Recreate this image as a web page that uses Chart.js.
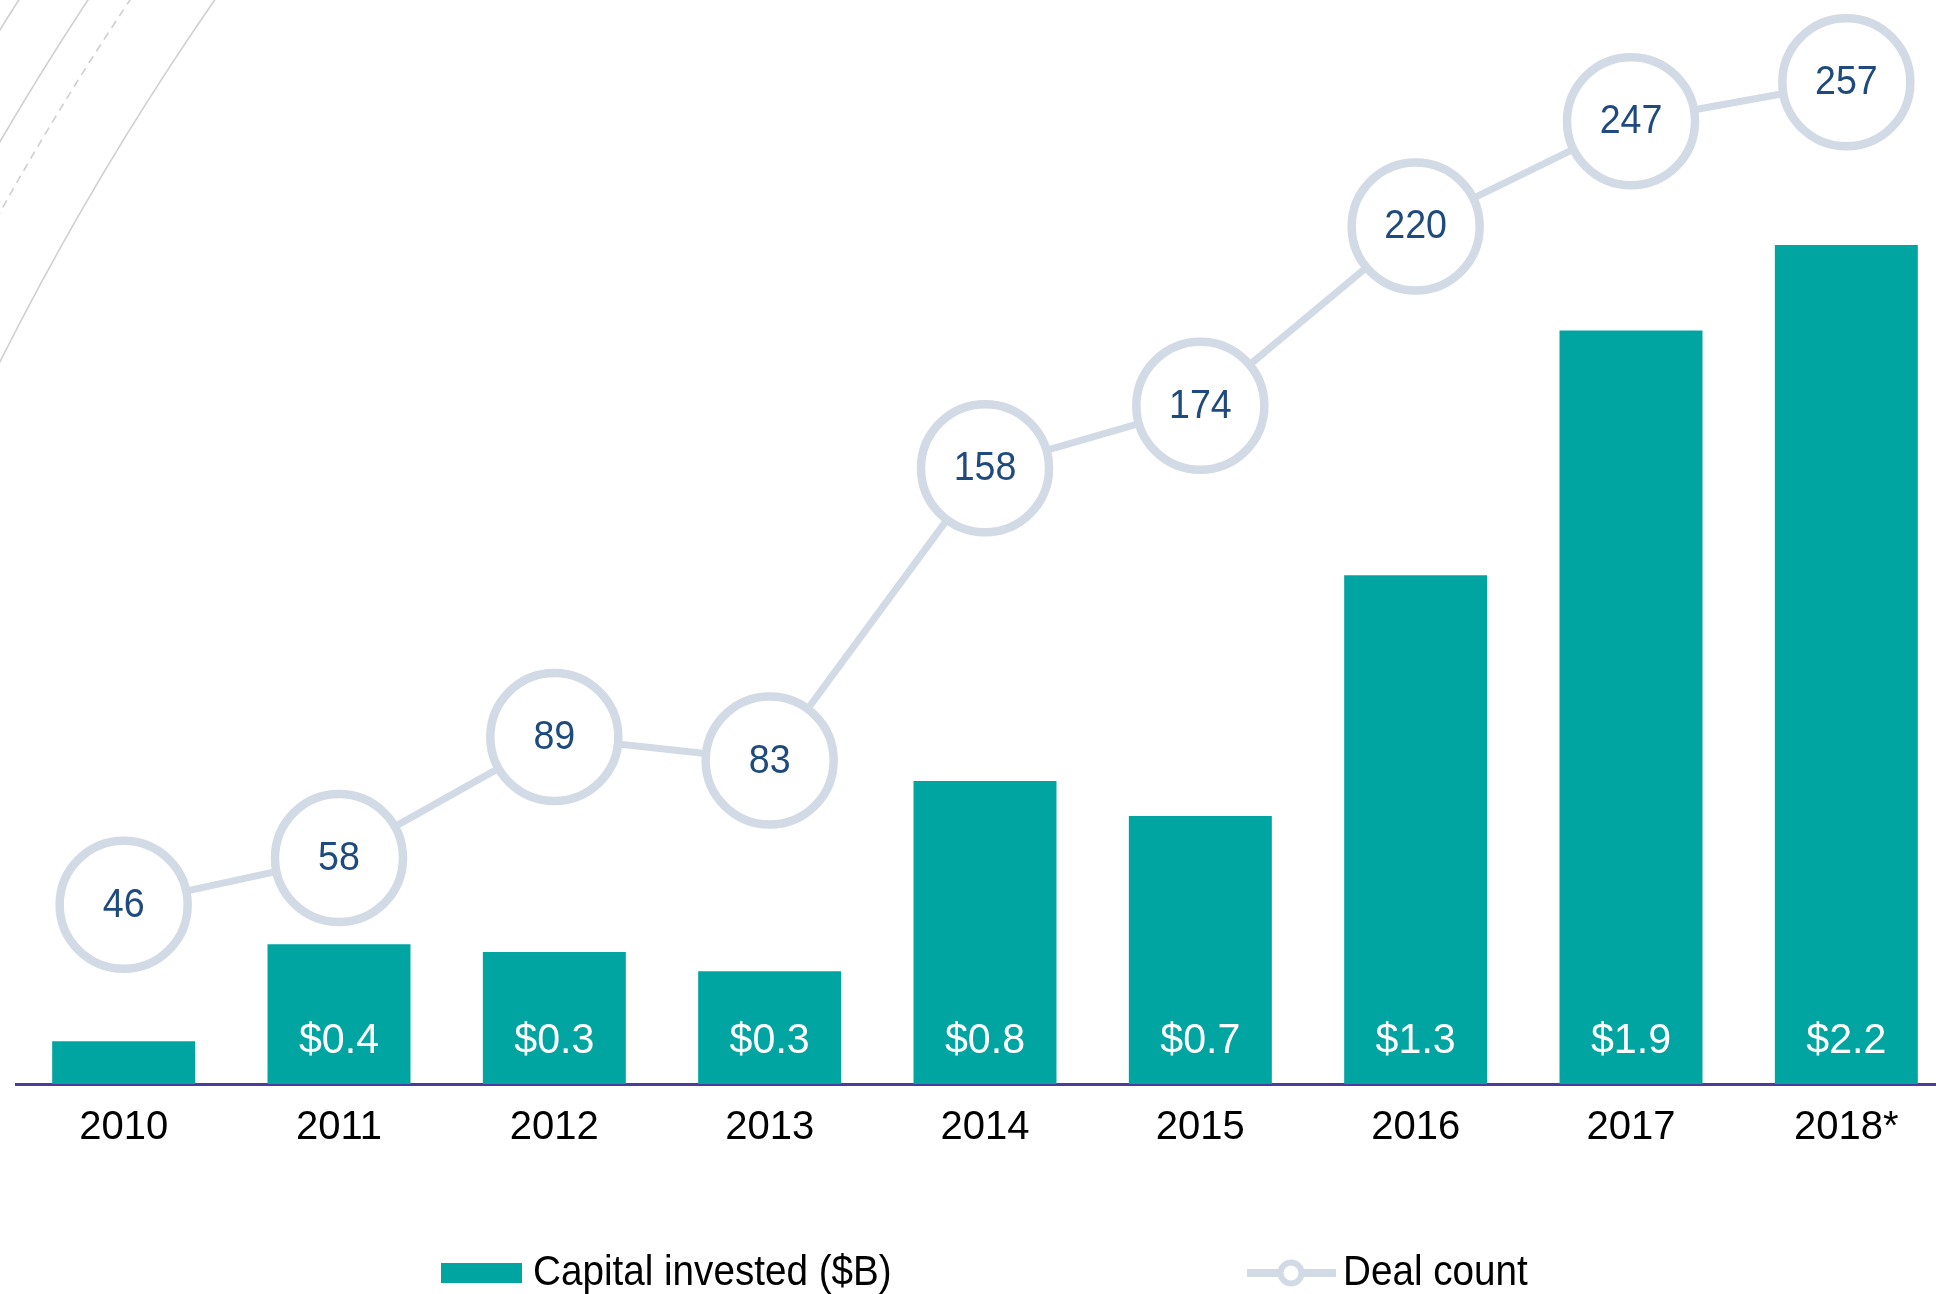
<!DOCTYPE html>
<html>
<head>
<meta charset="utf-8">
<script src="https://cdn.jsdelivr.net/npm/chart.js@4.4.1/dist/chart.umd.min.js"></script>
<style>
  html, body { margin: 0; padding: 0; background: #fff; overflow: hidden; }
  #wrap { position: absolute; left: 0; top: 0; width: 1954px; height: 1294px; }
</style>
</head>
<body>
<div id="wrap"><canvas id="chart" width="1954" height="1294"></canvas></div>
<script>
// Data
const years = ['2010', '2011', '2012', '2013', '2014', '2015', '2016', '2017', '2018*'];
const capitalInvested = [0.11, 0.36, 0.34, 0.29, 0.78, 0.69, 1.31, 1.94, 2.16];
const dealCount = [46, 58, 89, 83, 158, 174, 220, 247, 257];

const TEAL = '#00a5a2';
const RING = '#d2dae6';
const NAVY = '#1f4a7e';
const FONT = "'Liberation Sans', Arial, sans-serif";

Chart.defaults.font.family = FONT;

// the original type is a bit taller than it is wide
function tallText(ctx, text, x, y, sx) {
    ctx.save();
    ctx.translate(x, y);
    ctx.scale(sx, 1);
    ctx.fillText(text, 0, 0);
    ctx.restore();
}

// faint arcs in the top left corner
const backdropArcs = {
    id: 'backdropArcs',
    beforeDraw(chart) {
        const ctx = chart.ctx;
        const cx = 2681, cy = 1708;
        const rings = [
            {r: 3163, dash: []},
            {r: 3105, dash: []},
            {r: 3070, dash: [8, 6]},
            {r: 3000, dash: []}
        ];
        ctx.save();
        ctx.strokeStyle = '#cfcfcf';
        ctx.lineWidth = 1.6;
        rings.forEach(ring => {
            ctx.setLineDash(ring.dash);
            ctx.beginPath();
            ctx.arc(cx, cy, ring.r, Math.PI, 1.5 * Math.PI);
            ctx.stroke();
        });
        ctx.restore();
    }
};

// value labels: $ inside the bars, deal count inside the circles
const valueLabels = {
    id: 'valueLabels',
    afterDatasetsDraw(chart) {
        const ctx = chart.ctx;
        ctx.save();
        ctx.textAlign = 'center';
        ctx.textBaseline = 'middle';

        const bars = chart.getDatasetMeta(0).data;
        ctx.font = '42px ' + FONT;
        ctx.fillStyle = '#ffffff';
        bars.forEach((bar, i) => {
            if (bar.base - bar.y < 80) return;
            tallText(ctx, '$' + capitalInvested[i].toFixed(1), bar.x, bar.base - 43, 0.98);
        });

        const points = chart.getDatasetMeta(1).data;
        ctx.font = '40px ' + FONT;
        ctx.fillStyle = NAVY;
        points.forEach((pt, i) => {
            tallText(ctx, String(dealCount[i]), pt.x, pt.y + 1, 0.94);
        });
        ctx.restore();
    }
};

// legend drawn by hand to get the wide spacing of the original
const bottomLegend = {
    id: 'bottomLegend',
    afterDraw(chart) {
        const ctx = chart.ctx;
        const y = 1273;
        ctx.save();
        ctx.font = '42px ' + FONT;
        ctx.textAlign = 'left';
        ctx.textBaseline = 'middle';

        ctx.fillStyle = TEAL;
        ctx.fillRect(441, y - 10, 81, 20);
        ctx.fillStyle = '#000';
        tallText(ctx, chart.data.datasets[0].label, 533, y, 0.92);

        ctx.strokeStyle = RING;
        ctx.lineWidth = 8;
        ctx.beginPath();
        ctx.moveTo(1247, y);
        ctx.lineTo(1336, y);
        ctx.stroke();
        ctx.beginPath();
        ctx.arc(1291, y, 10.5, 0, Math.PI * 2);
        ctx.fillStyle = '#fff';
        ctx.fill();
        ctx.lineWidth = 6;
        ctx.stroke();

        ctx.fillStyle = '#000';
        tallText(ctx, chart.data.datasets[1].label, 1343, y, 0.92);
        ctx.restore();
    }
};

new Chart(document.getElementById('chart'), {
    type: 'bar',
    data: {
        labels: years,
        datasets: [{
            type: 'bar',
            label: 'Capital invested ($B)',
            data: capitalInvested,
            backgroundColor: TEAL,
            borderWidth: 0,
            barPercentage: 0.664,
            categoryPercentage: 1,
            yAxisID: 'yCap',
            order: 2
        }, {
            type: 'line',
            label: 'Deal count',
            data: dealCount,
            borderColor: RING,
            borderWidth: 7,
            tension: 0,
            pointRadius: 64,
            pointHoverRadius: 64,
            pointBorderWidth: 8.5,
            pointBackgroundColor: '#ffffff',
            pointBorderColor: RING,
            yAxisID: 'yDeal',
            clip: false,
            order: 1
        }]
    },
    options: {
        responsive: false,
        animation: false,
        devicePixelRatio: 1,
        events: [],
        layout: {
            autoPadding: false,
            padding: {left: 16, right: 0, top: 0, bottom: 0}
        },
        plugins: {
            legend: {display: false},
            tooltip: {enabled: false}
        },
        scales: {
            x: {
                grid: {display: false, drawTicks: false},
                border: {display: true, color: '#4b3c9b', width: 3},
                ticks: {
                    color: '#000',
                    padding: 20,
                    font: {size: 40}
                },
                afterFit(scale) {
                    scale.height = 210;
                }
            },
            yCap: {
                display: false,
                min: 0,
                max: 2.791
            },
            yDeal: {
                display: false,
                min: 0,
                max: 278.1
            }
        }
    },
    plugins: [backdropArcs, valueLabels, bottomLegend]
});
</script>
</body>
</html>
